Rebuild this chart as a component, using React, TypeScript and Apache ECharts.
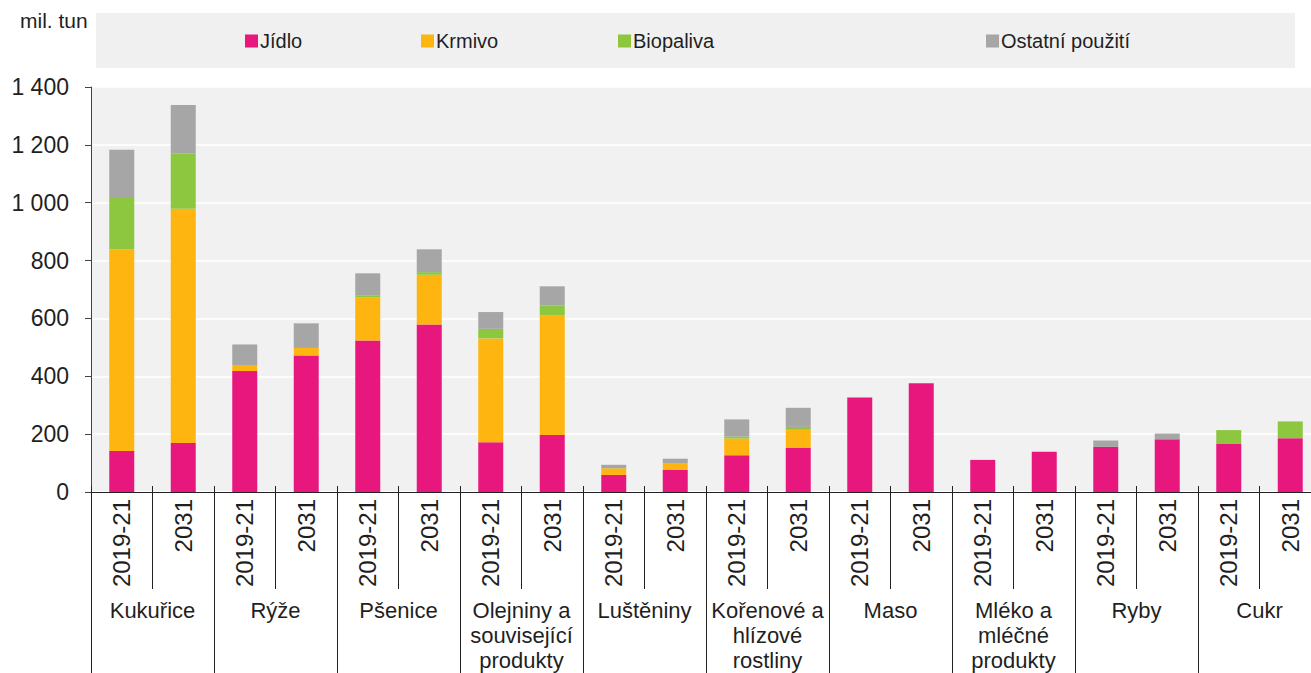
import React, { useEffect, useRef } from "react";
import * as echarts from "echarts";

const periods = [
  "2019-21", "2031", "2019-21", "2031", "2019-21", "2031", "2019-21", "2031", "2019-21", "2031",
  "2019-21", "2031", "2019-21", "2031", "2019-21", "2031", "2019-21", "2031", "2019-21", "2031",
];
const groups = [
  "Kukuřice",
  "Rýže",
  "Pšenice",
  "Olejniny a\nsouvisející\nprodukty",
  "Luštěniny",
  "Kořenové a\nhlízové\nrostliny",
  "Maso",
  "Mléko a\nmléčné\nprodukty",
  "Ryby",
  "Cukr",
];
const seriesNames = ["Jídlo", "Krmivo", "Biopaliva", "Ostatní použití"];
const colors = ["#E8177D", "#FFB50F", "#8DC63F", "#A6A6A6"];

const jidlo = [142, 169, 418, 472, 524, 579, 172, 197, 59, 76, 127, 152, 327, 376, 111, 139, 156, 182, 168, 186];
const krmivo = [696, 810, 21, 26, 149, 172, 359, 413, 23, 24, 58, 63, 0, 0, 0, 0, 0, 0, 0, 0];
const biopaliva = [182, 192, 0, 0, 7, 9, 33, 34, 0, 0, 7, 10, 0, 0, 0, 0, 0, 0, 46, 58];
const ostatni = [163, 167, 71, 85, 76, 79, 58, 67, 12, 15, 59, 66, 0, 0, 0, 0, 22, 20, 0, 0];

const yTicks = [0, 200, 400, 600, 800, 1000, 1200, 1400];

const legendLeft = [245, 421, 618, 986];

export default function App() {
  const ref = useRef<HTMLDivElement>(null);
  useEffect(() => {
    if (!ref.current) return;
    const chart = echarts.init(ref.current, null, { renderer: "svg" });
    const values = [jidlo, krmivo, biopaliva, ostatni];
    const font = "'Liberation Sans', Arial, sans-serif";
    const textColor = "#1F1F1F";
    const option: any = {
      animation: false,
      textStyle: { fontFamily: font },
      graphic: [
        {
          type: "rect",
          shape: { x: 96, y: 13, width: 1199, height: 55 },
          style: { fill: "#F0F0F0" },
          z: -1,
        },
        {
          type: "text",
          left: 20,
          top: 10,
          style: { text: "mil. tun", fontSize: 21, fontFamily: font, fill: textColor },
        },
      ],
      legend: seriesNames.map((n, i) => ({
        data: [n],
        left: legendLeft[i],
        top: 31,
        padding: 0,
        itemWidth: 13,
        itemHeight: 13,
        icon: "rect",
        textStyle: { fontSize: 20, color: textColor, fontFamily: font, padding: [0, 0, 0, -3] },
        selectedMode: false,
      })),
      grid: {
        left: 91,
        right: 0,
        top: 87,
        bottom: 180,
        show: true,
        backgroundColor: "#F1F1F1",
        borderWidth: 0,
      },
      xAxis: [
        {
          type: "category",
          data: periods,
          position: "bottom",
          axisLine: { show: true, lineStyle: { color: "#222", width: 1 } },
          axisTick: { show: true, length: 97, lineStyle: { color: "#222", width: 1 } },
          axisLabel: {
            rotate: 90,
            interval: 0,
            margin: 7,
            fontSize: 24,
            color: textColor,
            fontFamily: font,
          },
          z: 3,
        },
        {
          type: "category",
          data: groups,
          position: "bottom",
          axisLine: { show: false },
          axisTick: { show: true, length: 185, lineStyle: { color: "#222", width: 1 } },
          axisLabel: {
            interval: 0,
            margin: 106,
            fontSize: 22,
            lineHeight: 25,
            color: textColor,
            fontFamily: font,
          },
          z: 3,
        },
        {
          type: "category",
          data: periods,
          position: "bottom",
          axisLine: { show: false },
          axisTick: { show: true, inside: true, length: 6, lineStyle: { color: "#222", width: 1 } },
          axisLabel: { show: false },
          z: 3,
        },
      ],
      yAxis: {
        type: "value",
        min: 0,
        max: 1400,
        interval: 200,
        axisLine: { show: true, lineStyle: { color: "#444", width: 1 } },
        axisTick: { show: true, length: 6, lineStyle: { color: "#444" } },
        splitLine: { show: true, lineStyle: { color: "#FFFFFF", width: 1.5 } },
        axisLabel: {
          margin: 22,
          fontSize: 23,
          color: textColor,
          fontFamily: font,
          formatter: (v: number) =>
            yTicks.includes(v) ? String(v).replace(/\B(?=(\d{3})+(?!\d))/g, " ") : "",
        },
      },
      series: seriesNames.map((n, i) => ({
        name: n,
        type: "bar",
        stack: "total",
        xAxisIndex: 0,
        barWidth: 25,
        itemStyle: { color: colors[i] },
        data: values[i].map((v) => (v === 0 ? null : v)),
      })),
    };
    chart.setOption(option);
    return () => chart.dispose();
  }, []);
  return (
    <div
      style={{
        position: "fixed",
        left: 0,
        top: 0,
        width: 1311,
        height: 673,
        overflow: "hidden",
        background: "#fff",
      }}
    >
      <div ref={ref} style={{ width: 1321, height: 673 }} />
    </div>
  );
}
